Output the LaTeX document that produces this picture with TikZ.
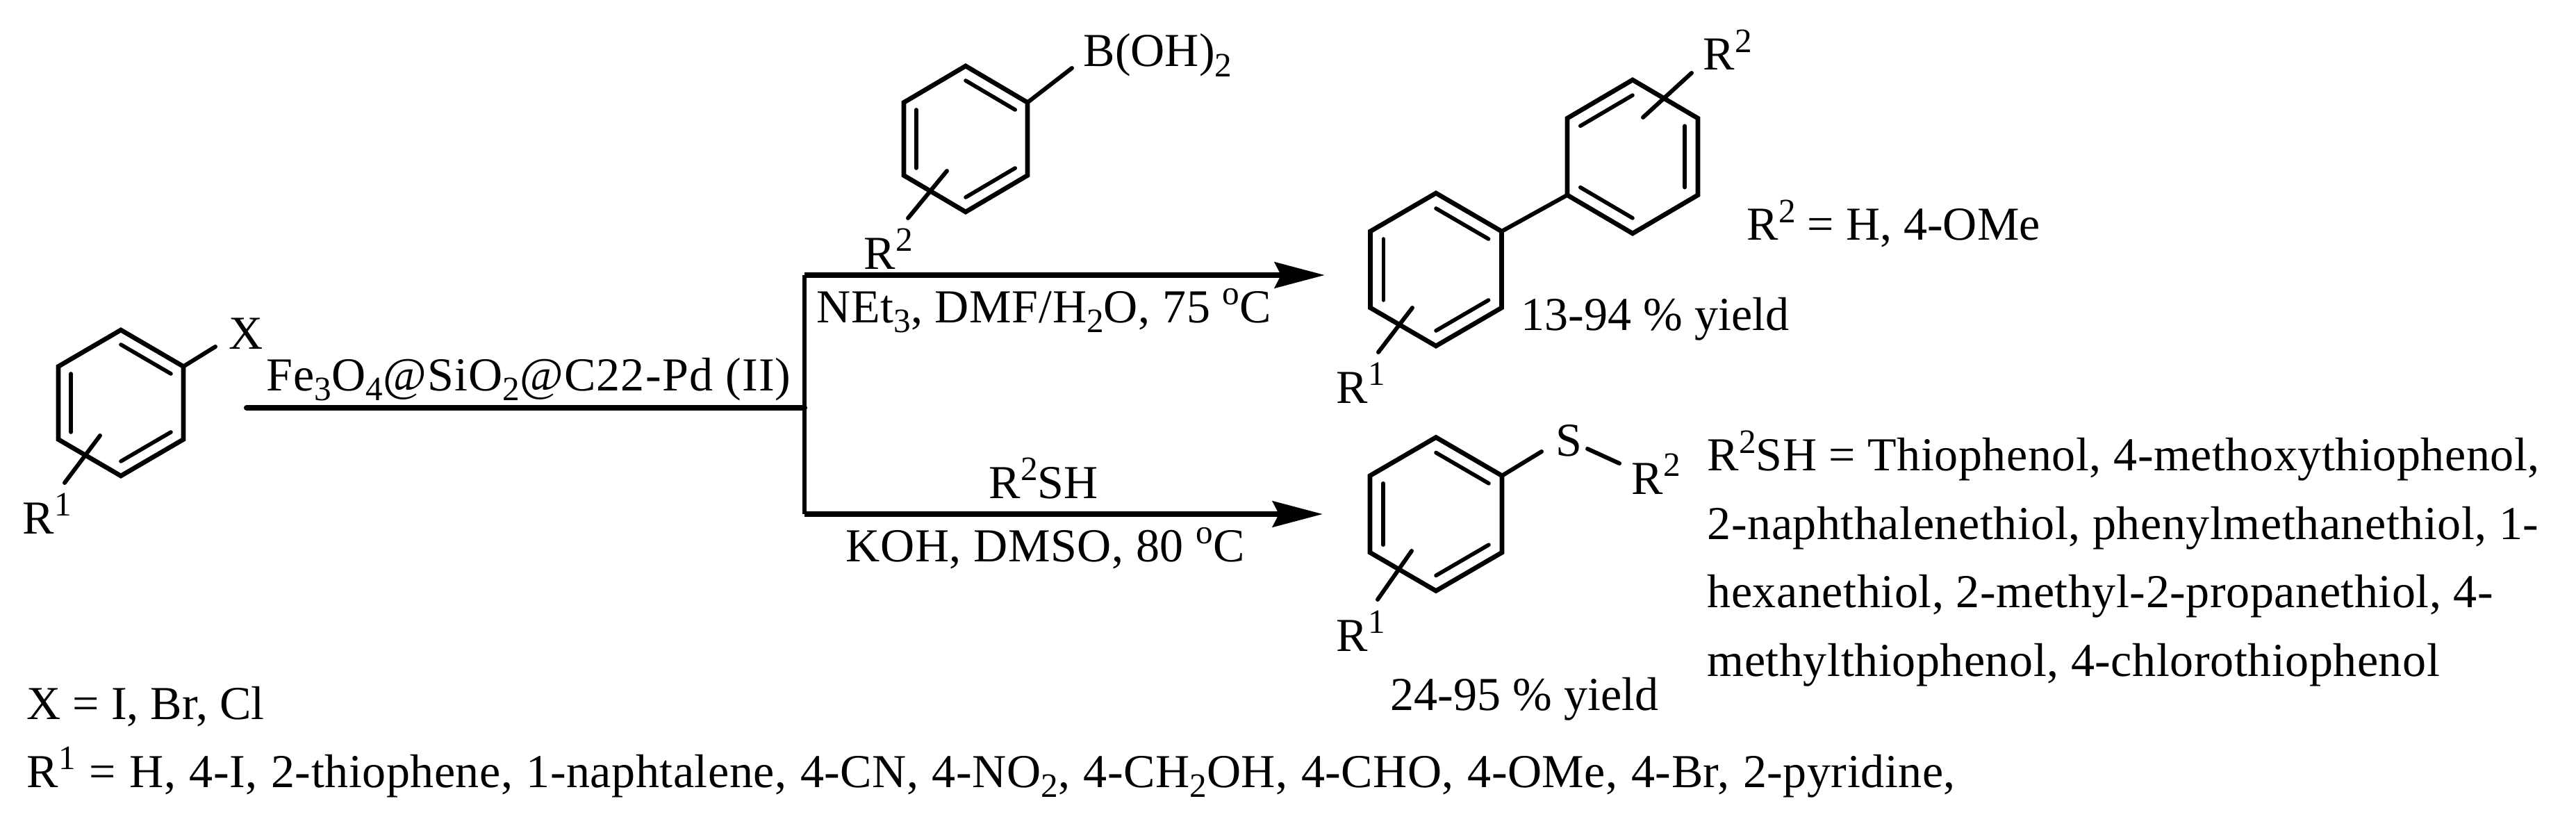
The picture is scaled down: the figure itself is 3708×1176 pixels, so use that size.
\documentclass[tikz,border=0pt]{standalone}
\usepackage{fontspec}
\setmainfont{Liberation Serif}
\usetikzlibrary{arrows.meta,calc}

\newcommand{\chemup}[1]{\raisebox{0.37em}{\fontsize{14}{14}\selectfont #1}}
\newcommand{\chemdn}[1]{\raisebox{-0.22em}{\fontsize{14}{14}\selectfont #1}}

% name, centre x, centre y, half width, half height, double bonds
\newcommand{\benzring}[6]{
	\coordinate (#1) at (#2,#3);
	\coordinate (#1-1) at (#2,#3-#5);
	\coordinate (#1-2) at (#2+#4,#3-#5/2);
	\coordinate (#1-3) at (#2+#4,#3+#5/2);
	\coordinate (#1-4) at (#2,#3+#5);
	\coordinate (#1-5) at (#2-#4,#3+#5/2);
	\coordinate (#1-6) at (#2-#4,#3-#5/2);
	\draw[bond] (#1-1) -- (#1-2) -- (#1-3) -- (#1-4) -- (#1-5) -- (#1-6) -- cycle;
	\foreach \a/\b in {#6}
		\path[inner bond] ($(#1)!0.8!(#1-\a)$) edge ($(#1)!0.8!(#1-\b)$);
}

\begin{document}
\begin{tikzpicture}[
    x=0.01cm,
    y=-0.01cm,
    bond/.style={line width=1.9pt,line join=miter},
    inner bond/.style={line width=1.6pt,line cap=round},
    sub bond/.style={line width=1.7pt,line cap=round},
    rail/.style={line width=2.3pt},
    arrow rail/.style={line width=2.3pt,-{Stealth[length=0.72cm,width=0.37cm,inset=0.09cm]}},
    chem/.style={anchor=base west,inner sep=0pt,font=\fontsize{19.35}{28}\selectfont},
    spread/.style={font=\fontsize{19.35}{28}\selectfont\addfontfeature{LetterSpace=#1}},
]
	\useasboundingbox (0,0) rectangle (3708,1176);

	% rings
	\benzring{Halide}{174}{580}{90}{105}{1/2,3/4,5/6}
	\benzring{Boronic}{1390}{200}{89}{105}{1/2,3/4,5/6}
	\benzring{BiarylA}{2067}{388}{94.5}{110}{1/2,3/4,5/6}
	\benzring{BiarylB}{2350}{225.5}{94}{110.5}{2/3,4/5,6/1}
	\benzring{Thio}{2067}{740}{95}{110.5}{1/2,3/4,5/6}

	% free ends of the bonds
	\coordinate (HalideX) at (310,499);
	\coordinate (HalideIn) at (144,627);
	\coordinate (HalideOut) at (93,695);
	\coordinate (BoronicB) at (1543,98);
	\coordinate (BoronicIn) at (1363,246);
	\coordinate (BoronicOut) at (1307,314);
	\coordinate (BiarylAIn) at (2033,443);
	\coordinate (BiarylAOut) at (1984,507);
	\coordinate (BiarylBIn) at (2365,169);
	\coordinate (BiarylBOut) at (2435,105);
	\coordinate (ThioIn) at (2032,793);
	\coordinate (ThioOut) at (1983,863);
	\coordinate (ThioS) at (2219,650);
	\coordinate (SulfurR) at (2285,646);
	\coordinate (SulfurEnd) at (2331,667);

	\path[sub bond]
		(Halide-2) edge (HalideX)
		(HalideIn) edge (HalideOut)
		(Boronic-2) edge (BoronicB)
		(BoronicIn) edge (BoronicOut)
		(BiarylAIn) edge (BiarylAOut)
		(BiarylBIn) edge (BiarylBOut)
		(BiarylA-2) edge (BiarylB-5)
		(ThioIn) edge (ThioOut)
		(Thio-2) edge (ThioS)
		(SulfurR) edge (SulfurEnd);

	% reaction lines
	\coordinate (Start) at (355,587);
	\coordinate (Branch) at (1158,587);
	\coordinate (UpperTurn) at (1158,396);
	\coordinate (LowerTurn) at (1158,740);
	\coordinate (UpperEnd) at (1907,396);
	\coordinate (LowerEnd) at (1904,740);

	\draw[rail,line cap=round] (Start) -- (Branch);
	\draw[line width=1.9pt,line join=miter] (UpperTurn) -- (LowerTurn);
	\draw[arrow rail] (UpperTurn) -- (UpperEnd);
	\draw[arrow rail] (LowerTurn) -- (LowerEnd);

	% structure labels
	\node[chem] (XLabel) at (329,502) {X};
	\node[chem] (RoneA) at (32,768) {R\chemup{1}};
	\node[chem] (BLabel) at (1559,96) {B(OH)\chemdn{2}};
	\node[chem] (RtwoA) at (1243,387) {R\chemup{2}};
	\node[chem] (RtwoB) at (2451,101) {R\chemup{2}};
	\node[chem] (RoneB) at (1923,580) {R\chemup{1}};
	\node[chem] (SLabel) at (2239,656) {S};
	\node[chem] (RtwoC) at (2348,711) {R\chemup{2}};
	\node[chem] (RoneC) at (1923,937) {R\chemup{1}};

	% conditions
	\node[chem,spread=1.8] (Catalyst) at (383,562) {Fe\chemdn{3}O\chemdn{4}@SiO\chemdn{2}@C22-Pd (II)};
	\node[chem,spread=1] (UpperCond) at (1175,464) {NEt\chemdn{3}, DMF/H\chemdn{2}O, 75 \chemup{o}C};
	\node[chem] (LowerReag) at (1423,717) {R\chemup{2}SH};
	\node[chem,spread=0.9] (LowerCond) at (1217,808) {KOH, DMSO, 80 \chemup{o}C};

	% notes
	\node[chem] (RtwoNote) at (2514,346) {R\chemup{2} = H, 4-OMe};
	\node[chem] (YieldA) at (2189,475) {13-94 \% yield};
	\node[chem] (YieldB) at (2001,1022) {24-95 \% yield};
	\node[chem,spread=0.8,align=left] (ThiolNote) at (2457,973) {R\chemup{2}SH = Thiophenol, 4-methoxythiophenol,\\
		2-naphthalenethiol, phenylmethanethiol, 1-\\
		hexanethiol, 2-methyl-2-propanethiol, 4-\\
		methylthiophenol, 4-chlorothiophenol};
	\node[chem] (XNote) at (38,1035) {X = I, Br, Cl};
	\node[chem,spread=0.75] (RoneNote) at (38,1133) {\spaceskip=5.6pt R\chemup{1} = H, 4-I, 2-thiophene, 1-naphtalene, 4-CN, 4-NO\chemdn{2}, 4-CH\chemdn{2}OH, 4-CHO, 4-OMe, 4-Br, 2-pyridine,};
\end{tikzpicture}
\end{document}
